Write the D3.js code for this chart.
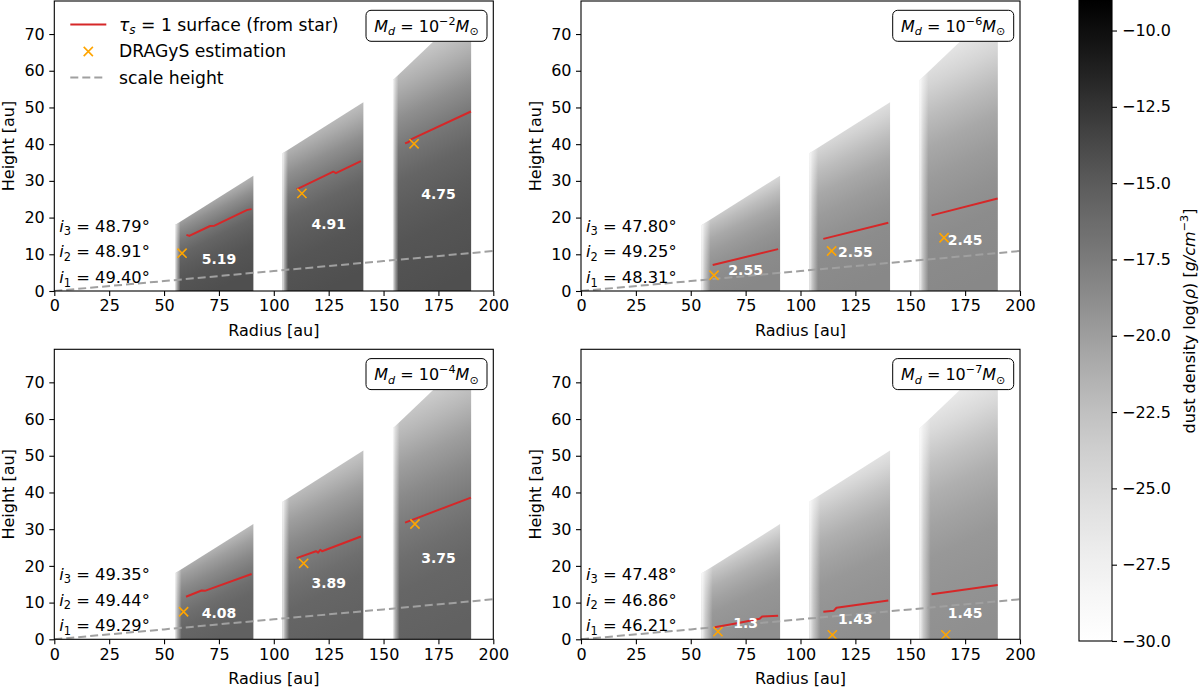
<!DOCTYPE html>
<html><head><meta charset="utf-8">
<script src="https://cdn.jsdelivr.net/npm/d3@7"></script>
<style>
body{margin:0;background:#fff}
svg{display:block}
text{font-family:"DejaVu Sans",sans-serif;white-space:pre}
</style>
</head><body><svg id="c" width="1200" height="688"></svg>
<script>
// ---------------- data ----------------
const panelMassExp = ["−2", "−6", "−4", "−7"];           // TL, TR, BL, BR
const xTicks = [0, 25, 50, 75, 100, 125, 150, 175, 200];
const yTicks = [0, 10, 20, 30, 40, 50, 60, 70];
const cbTicks = [-30, -27.5, -25, -22.5, -20, -17.5, -15, -12.5, -10];
const cbDomain = [-30, -9];

// ring geometry (radius / height in au)
const ringInner = [55, 104, 154.3];
const ringOuter = [90.7, 140.8, 189.9];
const ringTopR = [[55, 90.7], [104, 140.8], [154.3, 172.7, 189.9]];
const ringTopZ = [[18.0, 31.4], [37.5, 51.4], [57.5, 68, 68]];

// log dust density as a function of z/r, per panel
const densityAngles = [0, 0.1, 0.15, 0.2, 0.25, 0.3, 0.35, 0.4];
const densityM2 = [-14.2, -14.6, -15.1, -15.8, -17.1, -18.95, -21.25, -23.6];
const densityM6 = [-18.45, -18.75, -19.2, -19.8, -20.7, -22.2, -24.3, -26.5];
const densityM4 = [-15.5, -15.85, -16.5, -17.4, -18.6, -20.0, -21.9, -23.9];
const densityM7 = [-18.95, -19.3, -19.6, -20.3, -21.2, -22.7, -24.85, -27.05];
const rimWidth = [2.5, 4, 3, 5];

// tau_s = 1 surfaces [r, z]
const tauM2 = [
  [[60.2, 15.3], [61.5, 15.0], [71.0, 17.7], [73.0, 17.8], [86.5, 21.7], [88.0, 22.1], [89.9, 22.3]],
  [[110.4, 27.7], [127.1, 32.5], [128.3, 32.1], [139.7, 35.4]],
  [[159.8, 40.2], [161.5, 40.6], [162.5, 41.3], [189.8, 48.9]]
];
const tauM6 = [
  [[60.0, 7.1], [89.8, 11.4]],
  [[110.4, 14.2], [140.0, 18.6]],
  [[159.7, 20.6], [189.8, 25.2]]
];
const tauM4 = [
  [[60.0, 11.6], [67.1, 13.3], [68.6, 13.2], [89.9, 17.8]],
  [[110.4, 22.1], [119.2, 24.0], [120.2, 23.6], [121.2, 24.4], [122.0, 24.0], [139.7, 28.0]],
  [[159.8, 31.8], [189.8, 38.6]]
];
const tauM7 = [
  [[60.9, 3.3], [71.1, 4.4], [81.4, 5.6], [82.5, 6.2], [89.8, 6.4]],
  [[110.4, 7.5], [115.2, 7.8], [116.4, 8.6], [140.0, 10.6]],
  [[159.7, 12.3], [189.8, 14.8]]
];

// DRAGyS estimations [r, z]
const dragysM2 = [[58.2, 10.3], [112.8, 26.6], [163.9, 40.1]];
const dragysM6 = [[60.6, 4.3], [114.2, 10.9], [165.4, 14.5]];
const dragysM4 = [[58.9, 7.5], [113.6, 20.7], [164.3, 31.4]];
const dragysM7 = [[62.4, 2.1], [114.5, 1.2], [166.2, 1.2]];

// aspect-ratio labels
const ratioM2 = ["5.19", "4.91", "4.75"];
const ratioM6 = ["2.55", "2.55", "2.45"];
const ratioM4 = ["4.08", "3.89", "3.75"];
const ratioM7 = ["1.3", "1.43", "1.45"];
const ratioR = [75, 125, 175];
const ratioZM2 = [8.6, 18.3, 26.5];
const ratioZM6 = [5.7, 10.5, 13.9];
const ratioZM4 = [7.3, 15.3, 22.1];
const ratioZM7 = [4.5, 5.6, 7.1];

// inclinations i3, i2, i1
const inclM2 = ["48.79", "48.91", "49.40"];
const inclM6 = ["47.80", "49.25", "48.31"];
const inclM4 = ["49.35", "49.44", "49.29"];
const inclM7 = ["47.48", "46.86", "46.21"];

// scale height
const scaleR = [0, 50, 100, 150, 200];
const scaleZ = [0, 2.7, 5.45, 8.15, 10.9];

const panelData = [
  {dens: densityM2, tau: tauM2, drag: dragysM2, ratio: ratioM2, ratioZ: ratioZM2, incl: inclM2},
  {dens: densityM6, tau: tauM6, drag: dragysM6, ratio: ratioM6, ratioZ: ratioZM6, incl: inclM6},
  {dens: densityM4, tau: tauM4, drag: dragysM4, ratio: ratioM4, ratioZ: ratioZM4, incl: inclM4},
  {dens: densityM7, tau: tauM7, drag: dragysM7, ratio: ratioM7, ratioZ: ratioZM7, incl: inclM7}
];

// ---------------- layout ----------------
const layout = [{l: 54.3, t: 1}, {l: 581, t: 1}, {l: 54.3, t: 349.3}, {l: 581, t: 349.3}];
const W = 439, H = 290;
const FS = 16, LFS = 17.2, IFS = 16.3;
const RED = "#d62728", ORANGE = "#ffa500", GREY = "#a0a0a0";

const svg = d3.select("#c");
const defs = svg.append("defs");
const color = d3.scaleSequential(d3.interpolateGreys).domain(cbDomain);

function mathText(sel, parts, fs) {
  let shift = 0;
  parts.forEach(([txt, st = ""]) => {
    const sub = st.includes("s"), sup = st.includes("S");
    const target = sub ? 0.22 * fs : sup ? -0.42 * fs : 0;
    sel.append("tspan").text(txt)
      .attr("font-size", (sub || sup) ? fs * 0.7 : fs)
      .attr("font-style", st.includes("i") ? "italic" : "normal")
      .attr("dy", target - shift);
    shift = target;
  });
}

function xMarker(g, cx, cy, s) {
  g.append("path")
    .attr("d", `M${cx - s},${cy - s}L${cx + s},${cy + s}M${cx - s},${cy + s}L${cx + s},${cy - s}`)
    .attr("stroke", ORANGE).attr("stroke-width", 1.6).attr("fill", "none");
}

layout.forEach((lay, p) => {
  const d = panelData[p];
  const x = d3.scaleLinear().domain([0, 200]).range([lay.l, lay.l + W]);
  const y = d3.scaleLinear().domain([0, 79]).range([lay.t + H, lay.t]);

  defs.append("clipPath").attr("id", `clip${p}`)
    .append("rect").attr("x", lay.l).attr("y", lay.t).attr("width", W).attr("height", H);
  const g = svg.append("g").attr("clip-path", `url(#clip${p})`);

  const line = d3.line().x(q => x(q[0])).y(q => y(q[1]));
  const sx = x(1) - x(0), sy = y(0) - y(1), tRef = 0.3;
  let nx = -sy * tRef, ny = -sx;
  const N = Math.hypot(nx, ny); nx /= N; ny /= N;
  const tMax = densityAngles[densityAngles.length - 1];

  // density rings
  ringInner.forEach((rin, ri) => {
    const rout = ringOuter[ri];
    const pts = [[rin, 0]].concat(ringTopR[ri].map((r, k) => [r, ringTopZ[ri][k]])).concat([[rout, 0]]);
    const rMid = (rin + rout) / 2;
    const sMax = sx * sy * tMax * rMid / N;
    const x1 = x(rMid), y1 = y(0);
    const grad = defs.append("linearGradient").attr("id", `dens${p}_${ri}`)
      .attr("gradientUnits", "userSpaceOnUse")
      .attr("x1", x1).attr("y1", y1).attr("x2", x1 + nx * sMax).attr("y2", y1 + ny * sMax);
    densityAngles.forEach((t, k) => {
      grad.append("stop").attr("offset", t / tMax).attr("stop-color", color(d.dens[k]));
    });
    const rim = defs.append("linearGradient").attr("id", `rim${p}_${ri}`)
      .attr("gradientUnits", "userSpaceOnUse")
      .attr("x1", x(rin)).attr("y1", 0).attr("x2", x(rin + rimWidth[p])).attr("y2", 0);
    [[0, 0.9], [0.35, 0.5], [1, 0]].forEach(([o, a]) =>
      rim.append("stop").attr("offset", o).attr("stop-color", "#fff").attr("stop-opacity", a));
    g.append("path").attr("d", line(pts) + "Z").attr("fill", `url(#dens${p}_${ri})`);
    g.append("path").attr("d", line(pts) + "Z").attr("fill", `url(#rim${p}_${ri})`);
  });

  // scale height
  g.append("path").attr("d", line(scaleR.map((r, k) => [r, scaleZ[k]])))
    .attr("fill", "none").attr("stroke", GREY).attr("stroke-width", 2).attr("stroke-dasharray", "8,4");

  // tau surfaces
  d.tau.forEach(seg => {
    g.append("path").attr("d", line(seg)).attr("fill", "none")
      .attr("stroke", RED).attr("stroke-width", 2).attr("stroke-linejoin", "round");
  });

  // DRAGyS points
  d.drag.forEach(q => xMarker(g, x(q[0]), y(q[1]), 4.6));

  // ratio labels
  d.ratio.forEach((txt, k) => {
    g.append("text").attr("x", x(ratioR[k])).attr("y", y(d.ratioZ[k]))
      .attr("text-anchor", "middle").attr("dy", "0.36em")
      .attr("font-size", 14).attr("font-weight", "bold").attr("fill", "#fff").text(txt);
  });

  // inclinations
  ["3", "2", "1"].forEach((idx, k) => {
    const t = svg.append("text").attr("x", lay.l + 5).attr("y", lay.t + 230.5 + k * 25.8).attr("fill", "#000");
    mathText(t, [["i", "i"], [idx, "s"], [" = " + d.incl[k] + "°"]], IFS);
  });

  // mass box
  const bx = lay.l + W - 127.3, by = lay.t + 9.3;
  svg.append("rect").attr("x", bx).attr("y", by).attr("width", 121).attr("height", 31)
    .attr("rx", 5).attr("fill", "#fff").attr("stroke", "#000").attr("stroke-width", 1);
  const mt = svg.append("text").attr("x", bx + 60.5).attr("y", by + 21.5).attr("text-anchor", "middle");
  mathText(mt, [["M", "i"], ["d", "is"], [" = 10"], [panelMassExp[p], "S"], ["M", "i"], ["⊙", "s"]], FS);

  // frame
  svg.append("rect").attr("x", lay.l).attr("y", lay.t).attr("width", W).attr("height", H)
    .attr("fill", "none").attr("stroke", "#000").attr("stroke-width", 1.1);

  // axes
  const ax = svg.append("g").attr("transform", `translate(0,${lay.t + H})`)
    .call(d3.axisBottom(x).tickValues(xTicks).tickSize(5).tickPadding(4).tickFormat(d3.format("d")));
  const ay = svg.append("g").attr("transform", `translate(${lay.l},0)`)
    .call(d3.axisLeft(y).tickValues(yTicks).tickSize(5).tickPadding(4.5).tickFormat(d3.format("d")));
  [ax, ay].forEach(a => {
    a.select(".domain").remove();
    a.selectAll("text").attr("font-size", FS).attr("font-family", "DejaVu Sans").attr("fill", "#000");
    a.selectAll("line").attr("stroke", "#000").attr("stroke-width", 1.1);
  });

  svg.append("text").attr("x", lay.l + W / 2).attr("y", lay.t + H + 45)
    .attr("text-anchor", "middle").attr("font-size", FS).text("Radius [au]");
  svg.append("text").attr("transform", `translate(${lay.l - 40},${lay.t + H / 2}) rotate(-90)`)
    .attr("text-anchor", "middle").attr("font-size", FS).text("Height [au]");

  // legend (first panel only)
  if (p === 0) {
    const lx = lay.l + 16, tx = lay.l + 64.7;
    const base = [lay.t + 29.5, lay.t + 56, lay.t + 82.5];
    svg.append("line").attr("x1", lx).attr("x2", lx + 36).attr("y1", base[0] - 6).attr("y2", base[0] - 6)
      .attr("stroke", RED).attr("stroke-width", 2);
    const lt = svg.append("text").attr("x", tx).attr("y", base[0]);
    mathText(lt, [["τ", "i"], ["s", "is"], [" = 1 surface (from star)"]], LFS);
    xMarker(svg, lx + 18, base[1] - 5.5, 4.6);
    svg.append("text").attr("x", tx).attr("y", base[1]).attr("font-size", LFS).text("DRAGyS estimation");
    svg.append("line").attr("x1", lx).attr("x2", lx + 36).attr("y1", base[2] - 6).attr("y2", base[2] - 6)
      .attr("stroke", GREY).attr("stroke-width", 2).attr("stroke-dasharray", "8,4");
    svg.append("text").attr("x", tx).attr("y", base[2]).attr("font-size", LFS).text("scale height");
  }
});

// ---------------- colorbar ----------------
const cbY = d3.scaleLinear().domain(cbDomain).range([641, 0]);
const cbX = 1079, cbW = 33;
const cbGrad = defs.append("linearGradient").attr("id", "cbgrad")
  .attr("x1", 0).attr("y1", 1).attr("x2", 0).attr("y2", 0);
d3.range(0, 1.0001, 0.025).forEach(o => {
  cbGrad.append("stop").attr("offset", o).attr("stop-color", color(cbDomain[0] + o * (cbDomain[1] - cbDomain[0])));
});
svg.append("rect").attr("x", cbX).attr("y", cbY(cbDomain[1])).attr("width", cbW)
  .attr("height", cbY(cbDomain[0]) - cbY(cbDomain[1])).attr("fill", "url(#cbgrad)")
  .attr("stroke", "#000").attr("stroke-width", 1.1);
const cax = svg.append("g").attr("transform", `translate(${cbX + cbW},0)`)
  .call(d3.axisRight(cbY).tickValues(cbTicks).tickSize(5).tickPadding(5).tickFormat(d3.format(".1f")));
cax.select(".domain").remove();
cax.selectAll("text").attr("font-size", FS).attr("font-family", "DejaVu Sans").attr("fill", "#000");
cax.selectAll("line").attr("stroke", "#000").attr("stroke-width", 1.1);
const cbl = svg.append("text").attr("transform", "translate(1195,321) rotate(-90)").attr("text-anchor", "middle");
mathText(cbl, [["dust density log("], ["ρ", "i"], [") ["], ["g/cm", "i"], ["−3", "S"], ["]"]], FS);
</script>
</body></html>
